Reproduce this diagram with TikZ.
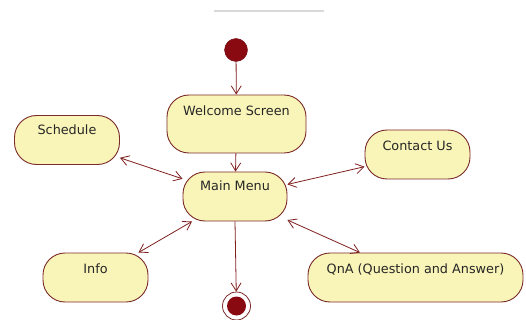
\documentclass[tikz,border=0pt]{standalone}
\usepackage{fontspec}
\setmainfont{DejaVu Sans}
\usetikzlibrary{arrows.meta}
\definecolor{stfill}{HTML}{F9F5B8}
\definecolor{stline}{HTML}{7B2A2A}
\definecolor{arr}{HTML}{7F1F1F}
\definecolor{dot}{HTML}{8A0A12}
\begin{document}
\begin{tikzpicture}[x=1pt,y=-1pt,
  statebox/.style={draw=stline, fill=stfill, line width=0.9pt, rounded corners=22pt, inner sep=0pt},
  lbl/.style={font=\fontsize{12.8}{14}\selectfont, text=black!85},
  flow/.style={draw=arr, line width=0.8pt, -{Straight Barb[length=8pt,width=10pt]}},
  both/.style={draw=arr, line width=0.8pt, {Straight Barb[length=8pt,width=10pt]}-{Straight Barb[length=8pt,width=10pt]}}]
\useasboundingbox (0,0) rectangle (526,320);
\draw[line width=1.2pt, color=black!15] (214,11) -- (324,11);
% start
\node[circle, fill=dot, draw=dot!80!black, minimum size=23pt, inner sep=0pt] (start) at (236,50) {};
% states
\node[statebox, minimum width=139pt, minimum height=58pt] (wel) at (236.5,124) {};
\node[lbl] at (236.5,111) {Welcome Screen};
\node[statebox, minimum width=105pt, minimum height=49pt] (sch) at (67,140) {};
\node[lbl] at (67,130) {Schedule};
\node[statebox, minimum width=104pt, minimum height=49pt] (main) at (235,196.5) {};
\node[lbl] at (235,186) {Main Menu};
\node[statebox, minimum width=105pt, minimum height=49pt] (con) at (417.5,154.5) {};
\node[lbl] at (417.5,146) {Contact Us};
\node[statebox, minimum width=105pt, minimum height=49pt] (info) at (95.5,277.5) {};
\node[lbl] at (95.5,269) {Info};
\node[statebox, minimum width=215pt, minimum height=49pt] (qna) at (415.5,277.5) {};
\node[lbl] at (415.5,269) {QnA (Question and Answer)};
% end
\node[circle, draw=stline, fill=white, line width=0.8pt, minimum size=28pt, inner sep=0pt] (end) at (236.5,306) {};
\node[circle, fill=dot, minimum size=19pt, inner sep=0pt] (endin) at (end.center) {};
% connectors
\draw[flow] (start) -- (wel);
\draw[flow] (wel) -- (main);
\draw[flow] (main.south) -- (end);
\draw[both] (sch) -- (main);
\draw[both] (con) -- (main);
\draw[both] (info) -- (main);
\draw[both] (qna) -- (main);
\end{tikzpicture}
\end{document}
